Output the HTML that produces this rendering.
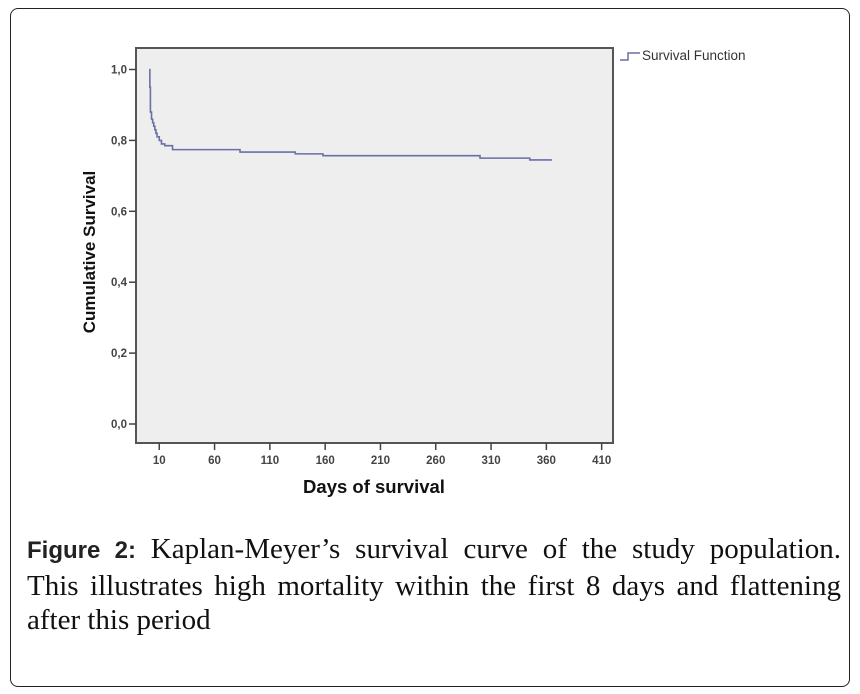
<!DOCTYPE html>
<html><head><meta charset="utf-8">
<style>
body{margin:0;background:#fff;width:860px;height:694px;overflow:hidden;}
#frame{position:absolute;left:10px;top:8px;width:840px;height:679px;border:1.5px solid #222;border-radius:8px;box-sizing:border-box;}
#caption{position:absolute;left:27px;top:532px;width:814px;font-family:"Liberation Serif",serif;font-size:29px;line-height:34.5px;color:#111;}
#caption .ln{display:block;text-align:justify;text-align-last:justify;white-space:nowrap;}
#caption .last{text-align-last:left;}
#caption b{font-family:"Liberation Sans",sans-serif;font-weight:bold;font-size:24px;color:#222;}
</style></head><body>
<div id="frame"></div>
<svg id="chart" width="860" height="694" style="position:absolute;left:0;top:0"></svg>
<div id="caption"><span class="ln"><b>Figure 2:</b> Kaplan-Meyer’s survival curve of the study population.</span><span class="ln">This illustrates high mortality within the first 8 days and flattening</span><span class="ln last">after this period</span></div>
<script>
const xTicks=[10,60,110,160,210,260,310,360,410];
const yTicks=[0,0.2,0.4,0.6,0.8,1.0];
const yTickLabels=["0,0","0,2","0,4","0,6","0,8","1,0"];
const times=[1,1.5,2,3,4,5,6,7,8,10,12,15,20,22,83,133,158,300,345,365];
const survival=[1.0,0.95,0.88,0.86,0.85,0.84,0.83,0.82,0.81,0.80,0.79,0.785,0.785,0.774,0.767,0.762,0.757,0.750,0.745,0.745];
const NS="http://www.w3.org/2000/svg";
const svg=document.getElementById('chart');
const L=136,R=613,T=48,B=443;
const xs=d=>148.2+(d)*1.106;
const ys=v=>424-v*354.5;
function el(t,a,p){const e=document.createElementNS(NS,t);for(const k in a)e.setAttribute(k,a[k]);(p||svg).appendChild(e);return e;}
const bg=el('rect',{x:L,y:T,width:R-L,height:B-T,fill:'#eeeeee',stroke:'#555','stroke-width':2});


const font='"Liberation Sans",sans-serif';
yTicks.forEach((v,i)=>{
 const y=ys(v);
 const tk=el('line',{x1:L-7,x2:L,y1:y,y2:y,stroke:'#444','stroke-width':1.5});
 
 
 const t=el('text',{x:L-9,y:y+4,'text-anchor':'end','font-family':font,'font-size':11.5,'font-weight':'bold',fill:'#444'});
 t.textContent=yTickLabels[i];
 
 
});
xTicks.forEach(v=>{
 const x=xs(v);
 const tk=el('line',{x1:x,x2:x,y1:B,y2:B+7,stroke:'#444','stroke-width':1.5});
 
 
 const t=el('text',{x:x,y:B+21,'text-anchor':'middle','font-family':font,'font-size':11.5,'font-weight':'bold',fill:'#444'});
 t.textContent=v;
 
 
});
const xt=el('text',{x:374,y:493,'text-anchor':'middle','font-family':font,'font-size':18.5,'font-weight':'bold',fill:'#111'});
xt.textContent='Days of survival';


const yt=el('text',{x:0,y:0,'text-anchor':'middle','font-family':font,'font-size':17,'font-weight':'bold',fill:'#111',transform:'translate(95,252) rotate(-90)'});
yt.textContent='Cumulative Survival';


let d='M'+xs(times[0])+','+ys(survival[0]);
for(let i=1;i<times.length;i++){d+=' H'+xs(times[i])+' V'+ys(survival[i]);}
const p=el('path',{d:d,fill:'none',stroke:'#6a6fa6','stroke-width':1.6});


const lg=el('path',{d:'M620,60 H628 V53 H640',fill:'none',stroke:'#6a6fa6','stroke-width':1.5});


const lt=el('text',{x:642,y:60,'font-family':font,'font-size':13.5,fill:'#333'});
lt.textContent='Survival Function';


</script>
</body></html>
